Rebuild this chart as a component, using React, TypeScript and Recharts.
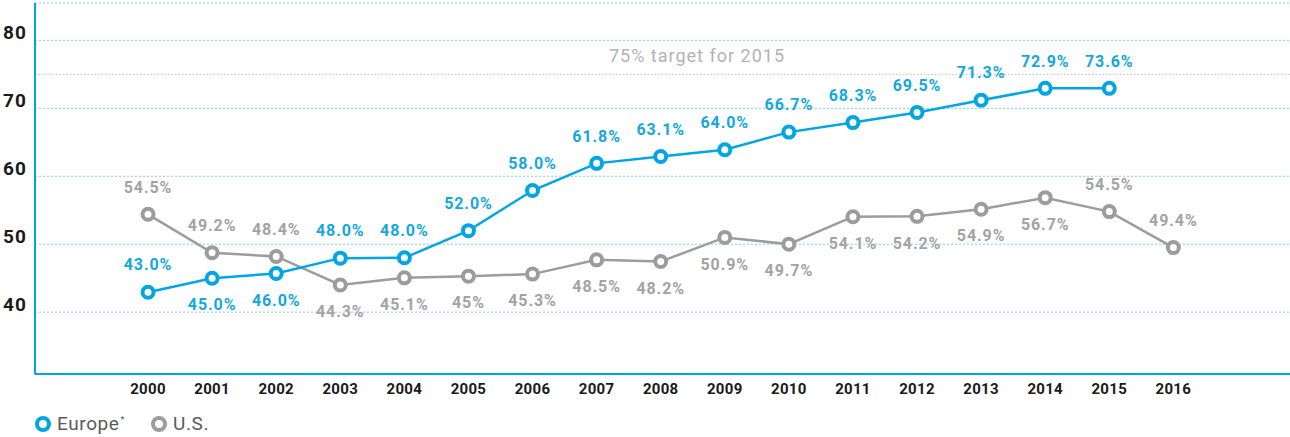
import React from 'react';
import { CartesianGrid, LabelList, Line, LineChart, ReferenceLine, XAxis, YAxis } from 'recharts';

const years = [2000, 2001, 2002, 2003, 2004, 2005, 2006, 2007, 2008, 2009, 2010, 2011, 2012, 2013, 2014, 2015, 2016];

// plotted positions
const europeValues = [42.94, 45.0, 45.7, 47.95, 48.0, 52.0, 57.9, 61.9, 62.9, 63.9, 66.5, 67.9, 69.4, 71.2, 72.94, 72.94, null];
const usValues = [54.4, 48.75, 48.2, 44.0, 45.05, 45.3, 45.6, 47.7, 47.45, 51.0, 50.0, 54.05, 54.1, 55.15, 56.85, 54.8, 49.5];

// printed labels (as in the source)
const europeLabels = ['43.0%', '45.0%', '46.0%', '48.0%', '48.0%', '52.0%', '58.0%', '61.8%', '63.1%', '64.0%', '66.7%', '68.3%', '69.5%', '71.3%', '72.9%', '73.6%', ''];
const usLabels = ['54.5%', '49.2%', '48.4%', '44.3%', '45.1%', '45%', '45.3%', '48.5%', '48.2%', '50.9%', '49.7%', '54.1%', '54.2%', '54.9%', '56.7%', '54.5%', '49.4%'];

const yTicks = [40, 50, 60, 70, 80];
const targetValue = 75;
const targetText = '75% target for 2015';

const BLUE = '#00a6e3';
const GREY = '#9c9c9c';
const FONT = 'Roboto, "DejaVu Sans", sans-serif';

// which labels sit under their point
const europeBelow = new Set([1, 2]);
const usAbove = new Set([0, 1, 2, 15, 16]);

const data = years.map((year, i) => ({
  year,
  europe: europeValues[i],
  us: usValues[i],
}));

const YTick = ({ y, payload }: any) => (
  <text x={3} y={y - 6} dominantBaseline="middle" fontSize={19} fontWeight={700} letterSpacing={1} fill="#1a1a1a" fontFamily={FONT}>
    {payload.value}
  </text>
);

const XTick = ({ x, y, payload }: any) => (
  <text x={x} y={y + 8} textAnchor="middle" dominantBaseline="middle" fontSize={15} fontWeight={700} letterSpacing={0.3} fill="#1a1a1a" fontFamily={FONT}>
    {payload.value}
  </text>
);

const makeLabel = (labels: string[], color: string, isBelow: (i: number) => boolean) => (props: any) => {
  const { x, y, index } = props;
  if (x == null || y == null || !labels[index]) return null;
  const dy = isBelow(index) ? 28 : -26;
  return (
    <text x={x} y={y + dy} textAnchor="middle" dominantBaseline="middle" fontSize={16} fontWeight={700} letterSpacing={0.9} fill={color} fontFamily={FONT}>
      {labels[index]}
    </text>
  );
};

const TargetLabel = ({ viewBox }: any) => (
  <text x={viewBox.x + 662} y={viewBox.y - 17} textAnchor="middle" dominantBaseline="middle" fontSize={18} letterSpacing={1} fill="#b3b3b3" fontFamily={FONT}>
    {targetText}
  </text>
);

const Marker = (color: string) => (props: any) => {
  const { cx, cy } = props;
  if (cx == null || cy == null) return null;
  return <circle key={`${cx}-${cy}`} cx={cx} cy={cy} r={5.5} fill="#fff" stroke={color} strokeWidth={4} />;
};

const LegendItem = ({ color, label, sup }: { color: string; label: string; sup?: string }) => (
  <div style={{ display: 'flex', alignItems: 'center', marginRight: 26 }}>
    <div style={{ width: 8, height: 8, borderRadius: '50%', border: `4px solid ${color}`, background: '#fff', marginRight: 6 }} />
    <span style={{ fontSize: 19, letterSpacing: 0.6, color: '#5a5a5a', fontFamily: FONT }}>
      {label}
      {sup && <sup style={{ fontSize: 9, marginLeft: 1 }}>{sup}</sup>}
    </span>
  </div>
);

export default function App() {
  return (
    <div style={{ position: 'relative', width: 1290, height: 437, background: '#fff' }}>
      <style>{'body{margin:0}'}</style>
      <LineChart width={1290} height={437} data={data} margin={{ top: 3, right: 0, bottom: 0, left: 0 }}>
        <CartesianGrid vertical={false} stroke="#7fd0ef" strokeDasharray="2 2" />
        <XAxis
          dataKey="year"
          type="number"
          domain={[1998.236, 2017.82]}
          ticks={years}
          interval={0}
          allowDataOverflow
          axisLine={{ stroke: BLUE, strokeWidth: 2 }}
          tickLine={false}
          height={63}
          tick={<XTick />}
        />
        <YAxis
          type="number"
          domain={[30.9, 85.5]}
          ticks={yTicks}
          allowDataOverflow
          axisLine={{ stroke: BLUE, strokeWidth: 2 }}
          tickLine={false}
          width={35}
          tick={<YTick />}
        />
        <ReferenceLine y={targetValue} stroke="#bdbdbd" strokeDasharray="1.5 2" label={<TargetLabel />} />
        <Line
          dataKey="us"
          stroke={GREY}
          strokeWidth={2.5}
          dot={Marker(GREY)}
          activeDot={false}
          isAnimationActive={false}
        >
          <LabelList dataKey="us" content={makeLabel(usLabels, '#a3a3a3', (i) => !usAbove.has(i))} />
        </Line>
        <Line
          dataKey="europe"
          stroke={BLUE}
          strokeWidth={2.5}
          dot={Marker(BLUE)}
          activeDot={false}
          connectNulls={false}
          isAnimationActive={false}
        >
          <LabelList dataKey="europe" content={makeLabel(europeLabels, '#14a7e0', (i) => europeBelow.has(i))} />
        </Line>
      </LineChart>
      <div style={{ position: 'absolute', left: 35, top: 412, display: 'flex' }}>
        <LegendItem color={BLUE} label="Europe" sup="*" />
        <LegendItem color={GREY} label="U.S." />
      </div>
    </div>
  );
}
